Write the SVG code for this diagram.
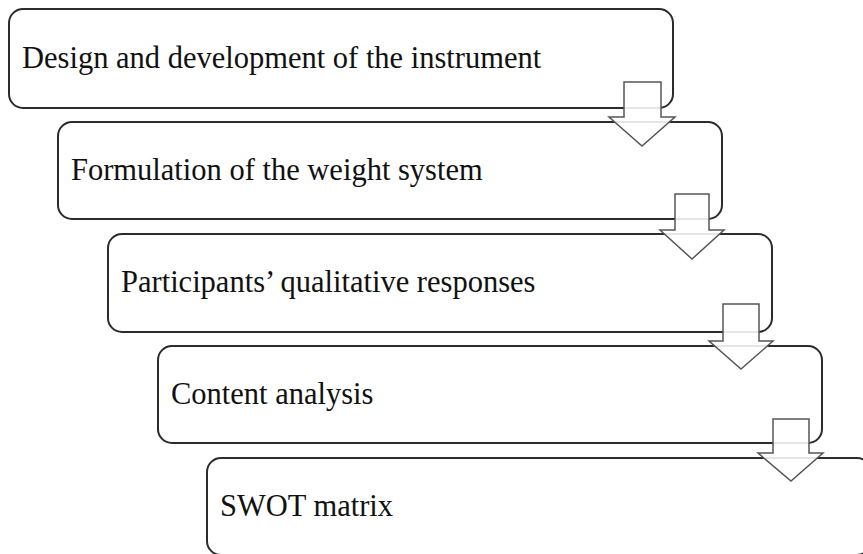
<svg xmlns="http://www.w3.org/2000/svg" width="863" height="554" viewBox="0 0 863 554">
<style>
.box{fill:#fff;stroke:#2b2b2b;stroke-width:2}
.lbl{font-family:"Liberation Serif","Times New Roman",serif;font-size:30.5px;fill:#111}
.arr{fill:#fff;fill-opacity:0.88;stroke:#555;stroke-width:1.5;stroke-linejoin:miter}
</style>
<rect width="863" height="554" fill="#fff"/>
<g id="n1"><rect class="box" x="9" y="9" width="664" height="99" rx="14"/><text class="lbl" x="22" y="68">Design and development of the instrument</text></g>
<g id="n2"><rect class="box" x="58" y="122" width="664" height="97" rx="14"/><text class="lbl" x="71" y="180">Formulation of the weight system</text></g>
<g id="n3"><rect class="box" x="108" y="234" width="664" height="98" rx="14"/><text class="lbl" x="121" y="292">Participants’ qualitative responses</text></g>
<g id="n4"><rect class="box" x="158" y="346" width="664" height="97" rx="14"/><text class="lbl" x="171" y="404">Content analysis</text></g>
<g id="n5"><rect class="box" x="207" y="458" width="664" height="97" rx="14"/><text class="lbl" x="220" y="516">SWOT matrix</text></g>
<g id="connectors">
<path class="arr" d="M624,82 H661 V117 H675 L642,146 L609,117 H624 Z"/>
<path class="arr" d="M675,194 H709 V230 H724 L692,259 L660,230 H675 Z"/>
<path class="arr" d="M723,304 H759 V341 H773 L741,369 L709,341 H723 Z"/>
<path class="arr" d="M773,419 H809 V453 H823 L791,481 L758,453 H773 Z"/>
</g>
</svg>
